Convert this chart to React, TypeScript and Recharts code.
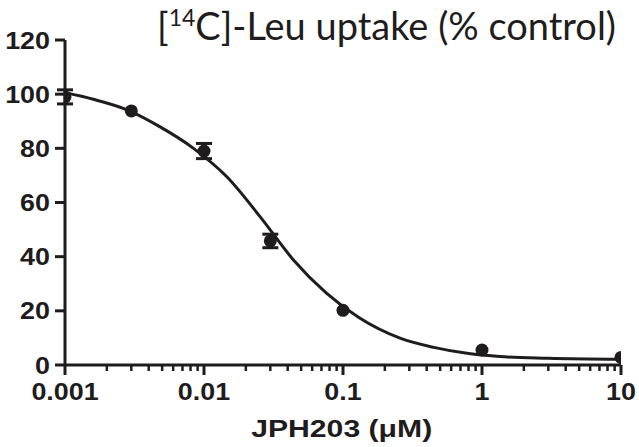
import React from 'react';
import { ComposedChart, Line, Scatter, XAxis, YAxis, ErrorBar } from 'recharts';

// measured data points (JPH203 concentration in µM, uptake % control, SEM)
const concentrations = [0.001, 0.003, 0.01, 0.03, 0.1, 1, 10];
const uptake = [99, 93.8, 79, 45.8, 20.2, 5.5, 2.8];
const uptakeSem = [2.6, 0, 2.8, 2.5, 0, 0, 0];

// fitted curve
const fitX = [0.001, 0.0016, 0.0028, 0.0048, 0.0084, 0.0146, 0.0253, 0.044, 0.076, 0.13, 0.26, 0.45, 0.78, 1.35, 3, 10];
const fitY = [100.5, 98.1, 94.2, 88.0, 80.0, 69.5, 54.8, 38.8, 26.5, 17.5, 9.8, 6.5, 4.3, 3.1, 2.5, 2.1];

const yTicks = [0, 20, 40, 60, 80, 100, 120];
const xMajorTicks = [0.001, 0.01, 0.1, 1, 10];
const xTickLabels = ['0.001', '0.01', '0.1', '1', '10'];
const xMinorTicks = [
  0.002, 0.003, 0.004, 0.005, 0.006, 0.007, 0.008, 0.009,
  0.02, 0.03, 0.04, 0.05, 0.06, 0.07, 0.08, 0.09,
  0.2, 0.3, 0.4, 0.5, 0.6, 0.7, 0.8, 0.9,
  2, 3, 4, 5, 6, 7, 8, 9,
];

const INK = '#1f1c1d';
const AXIS_FONT = '"Liberation Sans", Arial, sans-serif';
const STRETCH = 1.12;

const pointData = concentrations.map((x, i) => ({ x, y: uptake[i], err: uptakeSem[i] }));
const fitData = fitX.map((x, i) => ({ x, y: fitY[i] }));
const allXTicks = [...xMajorTicks, ...xMinorTicks].sort((a, b) => a - b);

const XTick = (props: any) => {
  const { x, y, payload } = props;
  const idx = xMajorTicks.indexOf(payload.value);
  const major = idx >= 0;
  return (
    <g>
      <line x1={x} y1={y} x2={x} y2={y + (major ? 10 : 6)} stroke={INK} strokeWidth={major ? 3 : 2.5} />
      {major && (
        <text
          transform={`translate(${x},${y + 35}) scale(${STRETCH},1)`}
          textAnchor="middle"
          fill={INK}
          fontFamily={AXIS_FONT}
          fontWeight="bold"
          fontSize={24}
        >
          {xTickLabels[idx]}
        </text>
      )}
    </g>
  );
};

const YTick = (props: any) => {
  const { x, y, payload } = props;
  return (
    <text
      transform={`translate(${x},${y + 8.5}) scale(${STRETCH},1)`}
      textAnchor="end"
      fill={INK}
      fontFamily={AXIS_FONT}
      fontWeight="bold"
      fontSize={24}
    >
      {payload.value}
    </text>
  );
};

const Dot = (props: any) => <circle cx={props.cx} cy={props.cy} r={6.5} fill={INK} />;

export default function App() {
  return (
    <div style={{ position: 'absolute', left: 0, top: 0, width: 639, height: 447, background: '#fff' }}>
      <ComposedChart width={639} height={447} margin={{ top: 40, right: 18, bottom: 0, left: 0 }}>
        <XAxis
          dataKey="x"
          type="number"
          scale="log"
          domain={[0.001, 10]}
          ticks={allXTicks}
          interval={0}
          allowDataOverflow
          height={82}
          tickSize={0}
          tickMargin={0}
          tickLine={false}
          axisLine={{ stroke: INK, strokeWidth: 3 }}
          tick={<XTick />}
        />
        <YAxis
          type="number"
          domain={[0, 120]}
          ticks={yTicks}
          interval={0}
          width={65}
          tickSize={10}
          tickMargin={5}
          axisLine={{ stroke: INK, strokeWidth: 3 }}
          tickLine={{ stroke: INK, strokeWidth: 3 }}
          tick={<YTick />}
        />
        <Line
          data={fitData}
          dataKey="y"
          type="monotone"
          stroke={INK}
          strokeWidth={3}
          dot={false}
          activeDot={false}
          isAnimationActive={false}
        />
        <Scatter data={pointData} dataKey="y" fill={INK} shape={<Dot />} isAnimationActive={false}>
          <ErrorBar dataKey="err" direction="y" width={8} stroke={INK} strokeWidth={3} />
        </Scatter>
      </ComposedChart>
      <svg width={639} height={447} style={{ position: 'absolute', left: 0, top: 0, pointerEvents: 'none' }}>
        <text
          x={157}
          y={39.5}
          fill={INK}
          fontFamily="Lato, 'Open Sans', sans-serif"
          fontSize={38}
          textLength={459}
          lengthAdjust="spacingAndGlyphs"
        >
          [<tspan fontSize={23} dy={-14}>14</tspan>
          <tspan dy={14}>C]-Leu uptake (% control)</tspan>
        </text>
        <text
          x={341.7}
          y={437}
          textAnchor="middle"
          fill={INK}
          fontFamily={AXIS_FONT}
          fontWeight="bold"
          fontSize={23}
          textLength={181}
          lengthAdjust="spacingAndGlyphs"
        >
          JPH203 (μM)
        </text>
      </svg>
    </div>
  );
}
